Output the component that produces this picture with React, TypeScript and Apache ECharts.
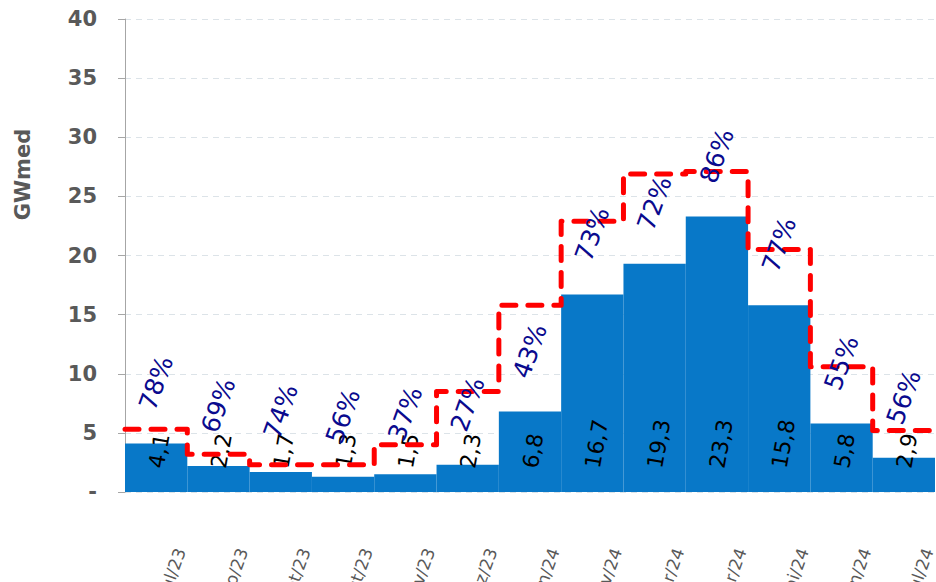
import React, { useEffect, useRef } from "react";
import * as echarts from "echarts";

const months = ["jul/23", "ago/23", "set/23", "out/23", "nov/23", "dez/23", "jan/24", "fev/24", "mar/24", "abr/24", "mai/24", "jun/24", "jul/24"];
const generation = [4.1, 2.2, 1.7, 1.3, 1.5, 2.3, 6.8, 16.7, 19.3, 23.3, 15.8, 5.8, 2.9];
const capacity = [5.3, 3.2, 2.3, 2.3, 4.0, 8.5, 15.8, 22.9, 26.9, 27.1, 20.5, 10.6, 5.2];
const percents = [78, 69, 74, 56, 37, 27, 43, 73, 72, 86, 77, 55, 56];

const FONT = "DejaVu Sans";

export default function App() {
  const ref = useRef<HTMLDivElement>(null);
  useEffect(() => {
    if (!ref.current) return;
    const chart = echarts.init(ref.current, null, { renderer: "svg" });
    const stepData: number[][] = capacity.map((v, i) => [i, v]);
    stepData.push([capacity.length, capacity[capacity.length - 1]]);
    chart.setOption({
      animation: false,
      backgroundColor: "#ffffff",
      grid: { left: 125, right: 1, top: 19, bottom: 90, containLabel: false, outerBoundsMode: "none" },
      xAxis: [
        {
          type: "category",
          data: months,
          boundaryGap: true,
          axisLine: { show: false },
          axisTick: { show: false },
          axisLabel: {
            interval: 0,
            rotate: 70,
            margin: 48,
            verticalAlign: "top",
            lineHeight: 52,
            color: "#595959",
            fontFamily: FONT,
            fontSize: 17,
          },
        },
        { type: "value", min: 0, max: 13, show: false },
      ],
      yAxis: {
        type: "value",
        min: 0,
        max: 40,
        interval: 5,
        name: "GWmed",
        nameLocation: "middle",
        nameGap: 92,
        nameTextStyle: { color: "#595959", fontFamily: FONT, fontWeight: "bold", fontSize: 21, padding: [0, 0, 0, 162] },
        axisLine: { show: true, lineStyle: { color: "#A6A6A6", width: 1 } },
        axisTick: { show: true, length: 7, lineStyle: { color: "#A6A6A6" } },
        axisLabel: {
          margin: 28,
          color: "#595959",
          fontFamily: FONT,
          fontWeight: "bold",
          fontSize: 21,
          formatter: (v: number) => (v === 0 ? "-" : String(v)),
        },
        splitLine: { show: true, lineStyle: { color: "#DCE3E8", type: [6, 5], width: 1 } },
      },
      series: [
        {
          type: "bar",
          data: generation,
          barWidth: "100%",
          barCategoryGap: "0%",
          itemStyle: { color: "#0878C8" },
          z: 2,
          label: {
            show: true,
            position: "insideBottom",
            distance: 24,
            rotate: 80,
            align: "left",
            verticalAlign: "middle",
            color: "#000000",
            fontFamily: FONT,
            fontSize: 22,
            formatter: (p: any) => Number(p.value).toFixed(1).replace(".", ","),
          },
        },
        {
          type: "line",
          xAxisIndex: 1,
          data: stepData,
          step: "end",
          symbol: "none",
          z: 4,
          lineStyle: { color: "#FF0000", width: 5, type: [14, 12], cap: "round", join: "round" },
        },
        {
          type: "scatter",
          data: generation,
          symbolSize: 1,
          itemStyle: { color: "transparent", opacity: 1 },
          z: 10,
          label: {
            show: true,
            position: "top",
            distance: 60,
            rotate: 70,
            align: "center",
            verticalAlign: "middle",
            color: "#0A0A8E",
            opacity: 1,
            fontFamily: FONT,
            fontSize: 25,
            formatter: (p: any) => percents[p.dataIndex] + "%",
          },
        },
      ],
    });
    return () => chart.dispose();
  }, []);
  return <div ref={ref} style={{ position: "fixed", left: 0, top: 0, width: 936, height: 582 }} />;
}
